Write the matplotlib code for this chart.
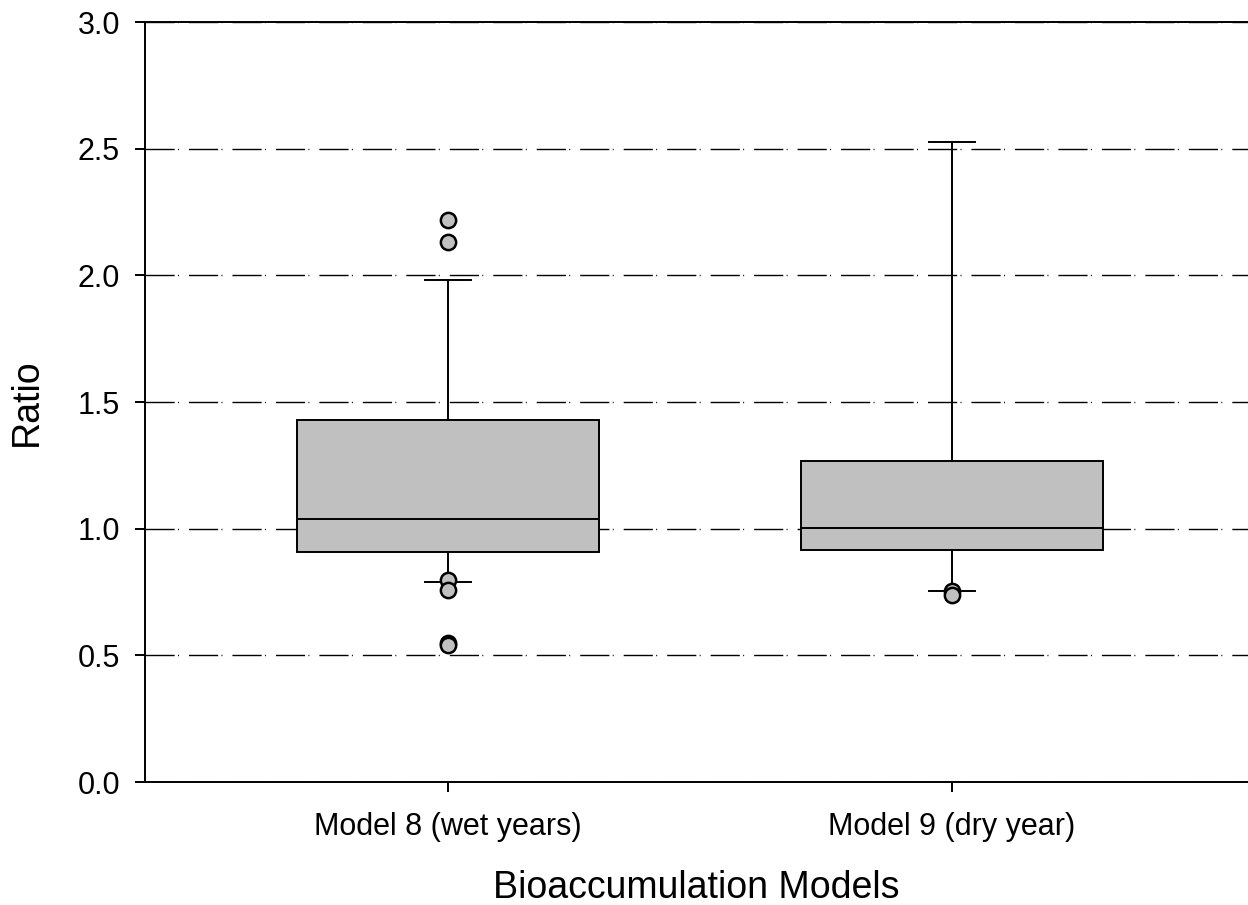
import matplotlib
matplotlib.use("Agg")
import matplotlib.pyplot as plt

plt.rcParams['font.family'] = ['Liberation Sans', 'DejaVu Sans']

# Box statistics
models = ["Model 8 (wet years)", "Model 9 (dry year)"]
q1 = [0.906, 0.916]
median = [1.038, 1.003]
q3 = [1.429, 1.267]
whisker_lo = [0.789, 0.754]
whisker_hi = [1.980, 2.525]
outliers = [
	[2.218, 2.131, 0.797, 0.758, 0.547, 0.540],
	[0.754, 0.737],
]

yticks = [0.0, 0.5, 1.0, 1.5, 2.0, 2.5, 3.0]

stats = []
for i, name in enumerate(models):
	stats.append({
		"label": name,
		"q1": q1[i], "med": median[i], "q3": q3[i],
		"whislo": whisker_lo[i], "whishi": whisker_hi[i],
		"fliers": outliers[i],
	})

fig = plt.figure(figsize=(12.48, 9.05), dpi=100)
ax = fig.add_axes([145 / 1248, 123 / 905, 1103 / 1248, 760 / 905])

gray = '#c0c0c0'
lw = 1.4
ax.bxp(stats, positions=[1, 2], widths=0.6, capwidths=0.09, patch_artist=True,
	boxprops=dict(facecolor=gray, edgecolor='black', linewidth=lw),
	medianprops=dict(color='black', linewidth=lw),
	whiskerprops=dict(color='black', linewidth=lw),
	capprops=dict(color='black', linewidth=lw),
	flierprops=dict(marker='o', markerfacecolor=gray, markeredgecolor='black',
		markersize=11, markeredgewidth=1.8),
	zorder=3)

ax.set_xlim(0.3988, 2.587)
ax.set_ylim(0, 3.0)
ax.set_yticks(yticks)
ax.set_yticklabels([f"{t:.1f}" for t in yticks])
ax.set_xticks([1, 2])
ax.set_xticklabels(models)

# dash-dot grid lines behind the boxes
ax.set_axisbelow(True)
ax.yaxis.grid(True, color='black', linewidth=1.0, linestyle=(0, (21, 2.4, 0.7, 7.2)))
ax.xaxis.grid(False)

ax.spines['right'].set_visible(False)
for s in ['left', 'bottom', 'top']:
	ax.spines[s].set_linewidth(lw)

ax.tick_params(axis='both', direction='out', length=7, width=lw, labelsize=22)
ax.tick_params(axis='x', pad=14.5)
ax.tick_params(axis='y', pad=11)

ax.set_ylabel("Ratio", fontsize=27, labelpad=23.5)
ax.set_xlabel("Bioaccumulation Models", fontsize=27, labelpad=20)

fig.savefig("out.png", dpi=100)
